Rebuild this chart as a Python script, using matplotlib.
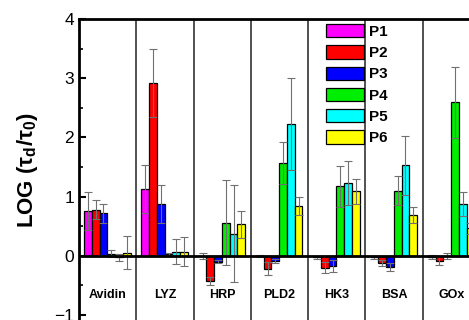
import numpy as np
import matplotlib
matplotlib.use('Agg')
import matplotlib.pyplot as plt

plt.rcParams['font.family'] = ['Liberation Sans', 'DejaVu Sans']

proteins = ['Avidin', 'LYZ', 'HRP', 'PLD2', 'HK3', 'BSA', 'GOx']
series = ['P1', 'P2', 'P3', 'P4', 'P5', 'P6']
colors = ['#FF00FF', '#FF0000', '#0000FF', '#00EE00', '#00FFFF', '#FFFF00']

# LOG(tau_d/tau_0) per protein, one list per series
p1 = [0.76, 1.13, -0.01, -0.01, -0.03, -0.03, -0.02]
p2 = [0.78, 2.92, -0.43, -0.22, -0.20, -0.12, -0.09]
p3 = [0.72, 0.87, -0.10, -0.09, -0.17, -0.19, -0.01]
p4 = [0.03, 0.03, 0.56, 1.57, 1.17, 1.10, 2.59]
p5 = [-0.03, 0.07, 0.37, 2.23, 1.23, 1.53, 0.87]
p6 = [0.05, 0.07, 0.53, 0.84, 1.09, 0.69, 0.46]

e1 = [0.32, 0.41, 0.05, 0.02, 0.03, 0.03, 0.03]
e2 = [0.16, 0.57, 0.07, 0.11, 0.10, 0.05, 0.06]
e3 = [0.16, 0.32, 0.03, 0.03, 0.10, 0.07, 0.05]
e4 = [0.06, 0.02, 0.72, 0.35, 0.35, 0.25, 0.60]
e5 = [0.06, 0.21, 0.82, 0.78, 0.37, 0.50, 0.20]
e6 = [0.28, 0.24, 0.23, 0.15, 0.21, 0.13, 0.10]

values = [p1, p2, p3, p4, p5, p6]
errors = [e1, e2, e3, e4, e5, e6]

fig = plt.figure(figsize=(4.69, 3.2), dpi=100)
# axes runs past the right edge like the original (GOx panel is cut)
ax = fig.add_axes([79 / 469, -0.8 / 320, 401 / 469, 301.8 / 320])

bw = 0.135
grp = np.arange(len(proteins))
for j, (vals, errs) in enumerate(zip(values, errors)):
    xs = grp + 0.09 + bw / 2 + bw * j
    ax.bar(xs, vals, width=bw, color=colors[j], edgecolor='black',
           linewidth=0.9, label=series[j], zorder=2)
    ax.errorbar(xs, vals, yerr=errs, fmt='none', ecolor='#707070',
                elinewidth=0.8, capsize=3, capthick=0.8, zorder=3)

for k in range(1, len(proteins)):
    ax.axvline(k, color='#333333', linewidth=1.2, zorder=1)
ax.axhline(0, color='black', linewidth=2, zorder=4)

for i, name in enumerate(proteins):
    ax.text(i + 0.5, -0.67, name, ha='center', va='center',
            fontsize=9, fontweight='bold')

ax.set_xlim(0, len(proteins))
ax.set_ylim(-1.1, 4)
ax.set_xticks([])
ax.set_yticks([-1, 0, 1, 2, 3, 4])
ax.set_yticks(np.arange(-0.5, 4, 1), minor=True)
ax.tick_params(axis='y', which='major', direction='in', length=5, width=1.5,
               labelsize=12.5)
ax.tick_params(axis='y', which='minor', direction='in', length=3, width=1.2)
for s in ['top', 'left']:
    ax.spines[s].set_linewidth(2)
ax.spines['right'].set_visible(False)
ax.spines['bottom'].set_visible(False)

ax.set_ylabel(r'LOG ($\mathregular{\tau_d/\tau_0}$)', fontsize=16,
              fontweight='bold', labelpad=10)

ax.legend(loc='upper left', bbox_to_anchor=(0.616, 0.983), frameon=False,
          borderpad=0, borderaxespad=0, handlelength=2.5, handleheight=0.95,
          labelspacing=0.42, handletextpad=0.3,
          prop={'weight': 'bold', 'size': 11})

fig.savefig('out.png', dpi=100)
